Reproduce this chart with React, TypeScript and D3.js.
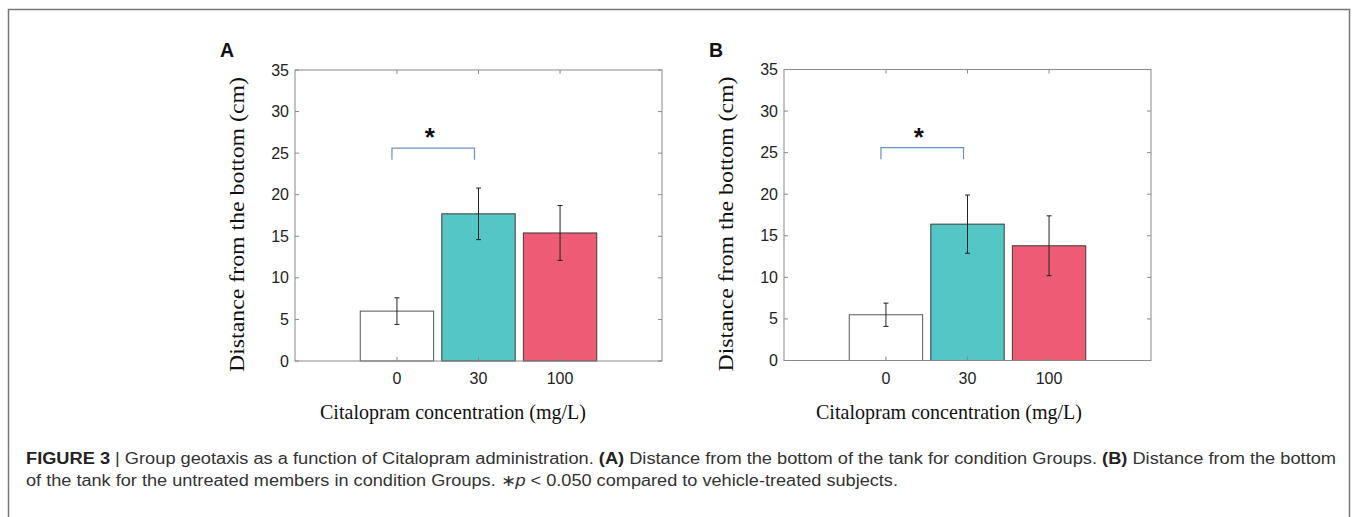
import React from "react";
import * as d3 from "d3";

const categories = ["0", "30", "100"];
const meansA = [6.0, 17.7, 15.4];
const errA = [1.6, 3.1, 3.3];
const meansB = [5.5, 16.4, 13.8];
const errB = [1.4, 3.5, 3.6];
const barColors = ["#ffffff", "#53c6c5", "#ee5b75"];
const yTicks = [0, 5, 10, 15, 20, 25, 30, 35];
const panelLetters = ["A", "B"];
const yLabel = "Distance from the bottom (cm)";
const xLabel = "Citalopram concentration (mg/L)";
const sigPair = [0, 1];
const sigLevel = 25.6;

const W = 1354;
const H = 517;

function Panel({ ox, oy, letter, means, errs, xlabX }: any) {
  const x = d3.scaleLinear().domain([-1.25, 3.25]).range([295, 662]);
  const y = d3.scaleLinear().domain([0, 35]).range([361, 70]);
  const unit = x(1) - x(0);
  const bw = unit * 0.9;
  const axisColor = "#8a8a8a";
  const tl = 4;
  return (
    <g transform={`translate(${ox},${oy})`}>
      <text x={220} y={57} fontFamily="Liberation Sans, Arial, sans-serif" fontWeight="bold" fontSize={19.5} fill="#111">
        {letter}
      </text>
      {means.map((m: number, i: number) => (
        <rect
          key={"b" + i}
          x={x(i) - bw / 2}
          y={y(m)}
          width={bw}
          height={y(0) - y(m)}
          fill={barColors[i]}
          stroke={i === 0 ? "#555" : "#3a3a3a"}
          strokeWidth={1}
        />
      ))}
      {means.map((m: number, i: number) => {
        const cx = x(i);
        const t = y(m + errs[i]);
        const b = y(m - errs[i]);
        return (
          <g key={"e" + i} stroke="#222" strokeWidth={1}>
            <line x1={cx} x2={cx} y1={t} y2={b} />
            <line x1={cx - 2.5} x2={cx + 2.5} y1={t} y2={t} />
            <line x1={cx - 2.5} x2={cx + 2.5} y1={b} y2={b} />
          </g>
        );
      })}
      <rect x={295} y={70} width={367} height={291} fill="none" stroke={axisColor} strokeWidth={1} />
      {yTicks.map((t) => (
        <g key={"yt" + t}>
          <line x1={295} x2={295 + tl} y1={y(t)} y2={y(t)} stroke={axisColor} />
          <line x1={662} x2={662 - tl} y1={y(t)} y2={y(t)} stroke={axisColor} />
          <text
            x={289}
            y={y(t) + 5.5}
            textAnchor="end"
            fontFamily="Liberation Sans, Arial, sans-serif"
            fontSize={16}
            fill="#222"
          >
            {t}
          </text>
        </g>
      ))}
      {categories.map((c, i) => (
        <g key={"xt" + i}>
          <line x1={x(i)} x2={x(i)} y1={361} y2={361 - tl} stroke={axisColor} />
          <line x1={x(i)} x2={x(i)} y1={70} y2={70 + tl} stroke={axisColor} />
          <text
            x={x(i)}
            y={384}
            textAnchor="middle"
            fontFamily="Liberation Sans, Arial, sans-serif"
            fontSize={16}
            fill="#222"
          >
            {c}
          </text>
        </g>
      ))}
      <path
        d={`M${x(sigPair[0]) - 5},${y(sigLevel - 1.4)}V${y(sigLevel)}H${x(sigPair[1]) - 4}V${y(sigLevel - 1.4)}`}
        fill="none"
        stroke="#6f8fc8"
        strokeWidth={1.2}
      />
      <text
        x={(x(sigPair[0]) + x(sigPair[1])) / 2 - 8}
        y={y(sigLevel) - 2}
        textAnchor="middle"
        fontFamily="Liberation Sans, Arial, sans-serif"
        fontWeight="bold"
        fontSize={26}
        fill="#111"
      >
        *
      </text>
      <text
        transform={`translate(244,224.5) rotate(-90)`}
        textAnchor="middle"
        fontFamily="Liberation Serif, 'Times New Roman', serif"
        fontSize={22}
        fill="#111"
        textLength={295}
        lengthAdjust="spacingAndGlyphs"
      >
        {yLabel}
      </text>
      <text
        x={xlabX}
        y={419}
        fontFamily="Liberation Serif, 'Times New Roman', serif"
        fontSize={22}
        fill="#111"
        textLength={266}
        lengthAdjust="spacingAndGlyphs"
      >
        {xLabel}
      </text>
    </g>
  );
}

export default function App() {
  return (
    <svg
      width={W}
      height={H}
      style={{ position: "absolute", left: 0, top: 0, background: "#fff" }}
    >
      <rect x={8.5} y={9.5} width={1341} height={540} fill="none" stroke="#777" strokeWidth={1.5} />
      <Panel ox={0} oy={0} letter={panelLetters[0]} means={meansA} errs={errA} xlabX={320} />
      <Panel ox={489} oy={-0.5} letter={panelLetters[1]} means={meansB} errs={errB} xlabX={327} />
      <text
        x={26}
        y={464}
        fontFamily="Liberation Sans, Arial, sans-serif"
        fontSize={16}
        fill="#333"
        textLength={1310}
        lengthAdjust="spacingAndGlyphs"
      >
        <tspan fontWeight="bold" fill="#222">FIGURE 3</tspan>
        <tspan> | </tspan>
        <tspan>Group geotaxis as a function of Citalopram administration. </tspan>
        <tspan fontWeight="bold" fill="#222">(A)</tspan>
        <tspan> Distance from the bottom of the tank for condition Groups. </tspan>
        <tspan fontWeight="bold" fill="#222">(B)</tspan>
        <tspan> Distance from the bottom</tspan>
      </text>
      <text
        x={26}
        y={486}
        fontFamily="Liberation Sans, Arial, sans-serif"
        fontSize={16}
        fill="#333"
        textLength={872}
        lengthAdjust="spacingAndGlyphs"
      >
        <tspan>of the tank for the untreated members in condition Groups. </tspan>
        <tspan>∗</tspan>
        <tspan fontStyle="italic">p</tspan>
        <tspan> &lt; 0.050 compared to vehicle-treated subjects.</tspan>
      </text>
    </svg>
  );
}
